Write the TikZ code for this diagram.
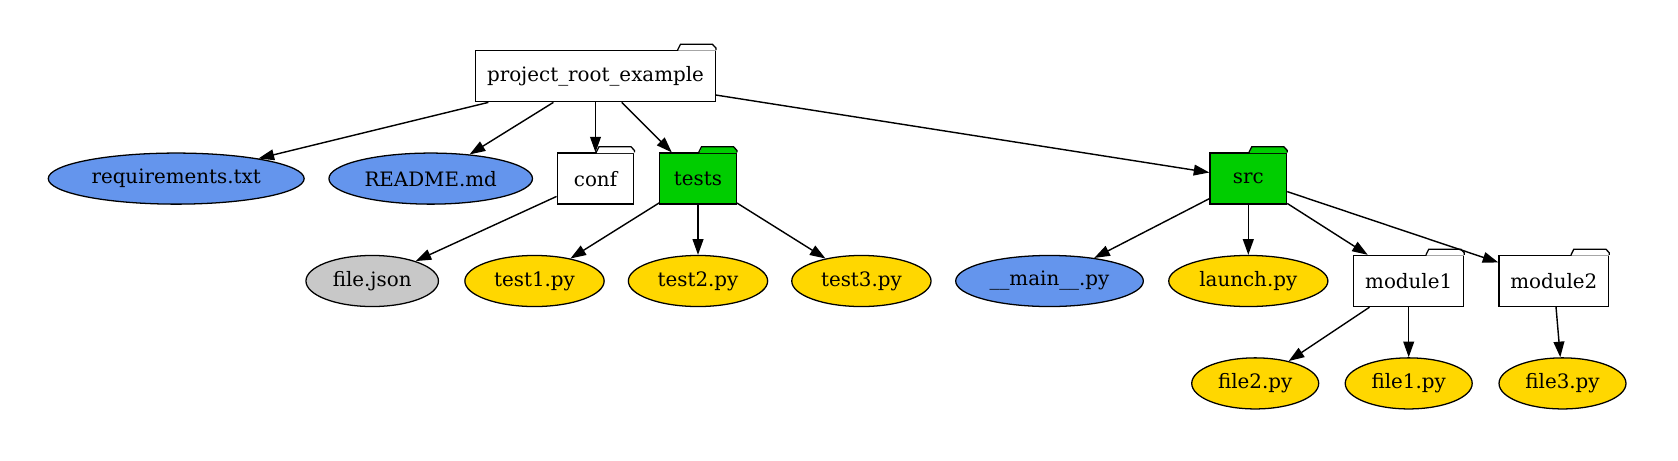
\documentclass[tikz,border=0pt]{standalone}
\usepackage{fontspec}
\setmainfont{DejaVu Serif}
\usetikzlibrary{arrows.meta,shapes.geometric}
\definecolor{dir_green}{RGB}{0, 205, 0}
\definecolor{py_gold}{RGB}{255, 215, 0}
\definecolor{doc_blue}{RGB}{100, 149, 237}
\definecolor{cfg_grey}{RGB}{200, 200, 200}
\tikzstyle{fd}=[rectangle,fill=white,draw=black,
  line width=0.9pt,inner xsep=8pt,minimum width=54pt,minimum height=36pt]
\tikzstyle{gd}=[fd,fill=dir_green]
\tikzstyle{bf}=[ellipse,fill=doc_blue,draw=black,
  line width=0.9pt,inner sep=0pt,minimum height=36pt]
\tikzstyle{yf}=[bf,fill=py_gold]
\tikzstyle{cf}=[bf,fill=cfg_grey]
\tikzstyle{edge}=[-{Triangle[length=11pt,width=7.6pt]},line width=1pt]

\begin{document}
\begin{tikzpicture}[x=0.705pt,y=-0.705pt,font=\fontsize{14}{17}\selectfont]
            \useasboundingbox (0, 0) rectangle (1678, 460);
            \node [style=fd] (0) at (595.5, 76.2) {project\_root\_example};
            \node [style=bf, minimum width=180.4pt] (1) at (176.2, 178.6) {requirements.txt};
            \node [style=bf, minimum width=143.5pt] (2) at (430.7, 178.6) {README.md};
            \node [style=fd] (3) at (595.5, 178.6) {conf};
            \node [style=gd] (4) at (698, 178.6) {tests};
            \node [style=gd] (5) at (1248.3, 178.6) {src};
            \node [style=cf, minimum width=93.4pt] (6) at (372.2, 281) {file.json};
            \node [style=yf, minimum width=98.2pt] (7) at (534.5, 281) {test1.py};
            \node [style=yf, minimum width=98.2pt] (8) at (698, 281) {test2.py};
            \node [style=yf, minimum width=98.2pt] (9) at (861.4, 281) {test3.py};
            \node [style=bf, minimum width=132.3pt] (10) at (1049.5, 281) {\_\_main\_\_.py};
            \node [style=yf, minimum width=112.2pt] (11) at (1248.3, 281) {launch.py};
            \node [style=fd] (12) at (1408.7, 281) {module1};
            \node [style=fd] (13) at (1553.8, 281) {module2};
            \node [style=yf, minimum width=89.5pt] (14) at (1255.2, 383.4) {file2.py};
            \node [style=yf, minimum width=89.5pt] (15) at (1408.7, 383.4) {file1.py};
            \node [style=yf, minimum width=89.5pt] (16) at (1562.5, 383.4) {file3.py};
            % folder tabs
            \foreach \d/\c in {0/white, 3/white, 4/dir_green, 5/dir_green, 12/white, 13/white} {
                \fill [fill=\c] ([xshift=-26.6pt, yshift=-0.5pt]\d.north east) -- ++(2pt, 4.5pt)
                    -- ++(22.6pt, 0) -- ++(2pt, -2.6pt) -- ++(0, -1.9pt) -- cycle;
                \draw [line width=0.9pt] ([xshift=-27pt]\d.north east) -- ++(2pt, 4pt)
                    -- ++(22.6pt, 0) -- ++(2.4pt, -2.6pt) -- (\d.north east);
            }
            \draw [style=edge] (0) to (1);
            \draw [style=edge] (0) to (2);
            \draw [style=edge] (0) to (3);
            \draw [style=edge] (0) to (4);
            \draw [style=edge] (0) to (5);
            \draw [style=edge] (3) to (6);
            \draw [style=edge] (4) to (7);
            \draw [style=edge] (4) to (8);
            \draw [style=edge] (4) to (9);
            \draw [style=edge] (5) to (10);
            \draw [style=edge] (5) to (11);
            \draw [style=edge] (5) to (12);
            \draw [style=edge] (5) to (13);
            \draw [style=edge] (12) to (14);
            \draw [style=edge] (12) to (15);
            \draw [style=edge] (13) to (16);
\end{tikzpicture}
\end{document}
